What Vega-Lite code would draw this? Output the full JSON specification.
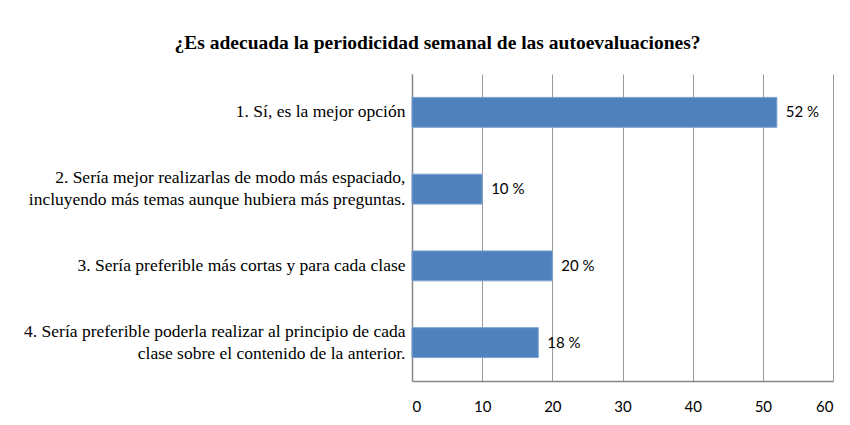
{
  "$schema": "https://vega.github.io/schema/vega-lite/v6.json",
  "width": 421,
  "height": 307,
  "autosize": {"type": "none"},
  "padding": {"left": 412, "top": 74, "right": 17, "bottom": 44},
  "background": "white",
  "title": {
    "text": "¿Es adecuada la periodicidad semanal de las autoevaluaciones?",
    "font": "Liberation Serif, Times New Roman, serif",
    "fontSize": 19.5,
    "fontWeight": "bold",
    "color": "#000000",
    "anchor": "middle",
    "dx": -185,
    "offset": 21
  },
  "data": {
    "values": [
      {"opcion": "1. Sí, es la mejor opción", "valor": 52, "etiqueta": "52 %"},
      {"opcion": "2. Sería mejor realizarlas de modo más espaciado,|incluyendo más temas aunque hubiera más preguntas.", "valor": 10, "etiqueta": "10 %"},
      {"opcion": "3. Sería preferible más cortas y para cada clase", "valor": 20, "etiqueta": "20 %"},
      {"opcion": "4. Sería preferible poderla realizar al principio de cada|clase sobre el contenido de la anterior.", "valor": 18, "etiqueta": "18 %"}
    ]
  },
  "encoding": {
    "y": {
      "field": "opcion",
      "type": "nominal",
      "sort": null,
      "scale": {"paddingInner": 0.61, "paddingOuter": 0.305},
      "axis": {
        "title": null,
        "ticks": false,
        "labelFont": "Liberation Serif, Times New Roman, serif",
        "labelFontSize": 17.5,
        "labelColor": "#000000",
        "labelPadding": 7,
        "labelLimit": 420,
        "labelLineHeight": 22,
        "labelOffset": {"condition": {"test": "indexof(datum.value, '|') >= 0", "value": -11}, "value": 0},
        "labelExpr": "split(datum.label, '|')",
        "domainColor": "#868686",
        "domainWidth": 1.5,
        "grid": false
      }
    },
    "x": {
      "field": "valor",
      "type": "quantitative",
      "scale": {"domain": [0, 60], "nice": false},
      "axis": {
        "title": null,
        "values": [0, 10, 20, 30, 40, 50, 60],
        "ticks": false,
        "labelFont": "Lato",
        "labelFontSize": 15,
        "labelColor": "#000000",
        "labelPadding": 18,
        "domainColor": "#868686",
        "domainWidth": 1.5,
        "grid": true,
        "gridColor": "#9a9a9a",
        "gridWidth": 1
      }
    }
  },
  "layer": [
    {
      "mark": {"type": "bar", "color": "#4F81BD", "stroke": "#7ea3d0", "strokeWidth": 1}
    },
    {
      "mark": {"type": "text", "align": "left", "dx": 9, "font": "Lato", "fontSize": 15, "color": "#000000"},
      "encoding": {"text": {"field": "etiqueta"}}
    }
  ],
  "config": {"view": {"stroke": null}}
}
